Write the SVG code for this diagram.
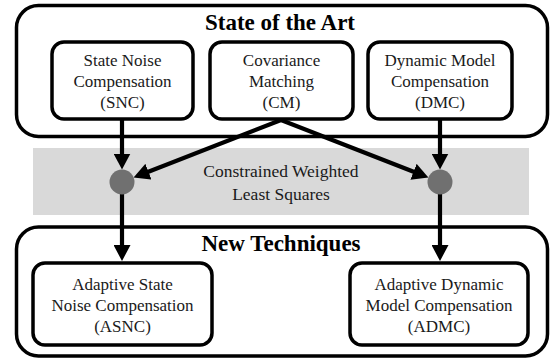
<svg xmlns="http://www.w3.org/2000/svg" width="553" height="362" viewBox="0 0 553 362">
<style>
.outer{fill:#fff;stroke:#000;stroke-width:3.5}
.box{fill:#fff;stroke:#000;stroke-width:3.5}
.t{font-family:"Liberation Serif","Times New Roman",serif;font-size:17px;text-anchor:middle;fill:#1a1a1a}
.title{font-family:"Liberation Serif","Times New Roman",serif;font-size:23px;font-weight:bold;text-anchor:middle;fill:#000}
.mid{font-family:"Liberation Serif","Times New Roman",serif;font-size:17.5px;text-anchor:middle;fill:#1a1a1a}
.c{stroke:#000;stroke-width:4.2;fill:none}
.dot{fill:#707070}
</style>
<defs>
<marker id="ah" markerUnits="userSpaceOnUse" markerWidth="17" markerHeight="17" refX="9" refY="8.5" orient="auto" viewBox="0 0 17 17">
<path d="M0,0 L16,8.5 L0,17 z" fill="#000"/>
</marker>
</defs>
<rect x="33" y="148" width="496" height="67" fill="#d9d9d9"/>
<g id="state-of-the-art">
<rect class="outer" x="16.5" y="5.5" width="531" height="131" rx="22"/>
<text class="title" x="280" y="30">State of the Art</text>
</g>
<g id="snc">
<rect class="box" x="52" y="42" width="141" height="77" rx="12"/>
<text class="t" x="122.5" y="66">State Noise</text>
<text class="t" x="122.5" y="87">Compensation</text>
<text class="t" x="122.5" y="108">(SNC)</text>
</g>
<g id="cm">
<rect class="box" x="210" y="42" width="143" height="77" rx="12"/>
<text class="t" x="281.5" y="66">Covariance</text>
<text class="t" x="281.5" y="87">Matching</text>
<text class="t" x="281.5" y="108">(CM)</text>
</g>
<g id="dmc">
<rect class="box" x="368" y="42" width="144" height="77" rx="12"/>
<text class="t" x="440" y="66">Dynamic Model</text>
<text class="t" x="440" y="87">Compensation</text>
<text class="t" x="440" y="108">(DMC)</text>
</g>
<g id="cwls">
<text class="mid" x="281" y="177">Constrained Weighted</text>
<text class="mid" x="281" y="200">Least Squares</text>
</g>
<g id="new-techniques">
<rect class="outer" x="16.5" y="227" width="531" height="129" rx="22"/>
<text class="title" x="281" y="251">New Techniques</text>
</g>
<g id="asnc">
<rect class="box" x="33" y="263" width="179" height="82" rx="12"/>
<text class="t" x="122.5" y="290">Adaptive State</text>
<text class="t" x="122.5" y="311">Noise Compensation</text>
<text class="t" x="122.5" y="332">(ASNC)</text>
</g>
<g id="admc">
<rect class="box" x="350" y="263" width="178" height="82" rx="12"/>
<text class="t" x="439" y="290">Adaptive Dynamic</text>
<text class="t" x="439" y="311">Model Compensation</text>
<text class="t" x="439" y="332">(ADMC)</text>
</g>
<g id="connectors">
<line class="c" x1="122" y1="119" x2="122" y2="162.5" marker-end="url(#ah)"/>
<line class="c" x1="440" y1="119" x2="440" y2="162.5" marker-end="url(#ah)"/>
<line class="c" x1="281" y1="120" x2="140.1" y2="175" marker-end="url(#ah)"/>
<line class="c" x1="281" y1="120" x2="421.9" y2="175" marker-end="url(#ah)"/>
<line class="c" x1="122" y1="190" x2="122" y2="254" marker-end="url(#ah)"/>
<line class="c" x1="440" y1="190" x2="440" y2="254" marker-end="url(#ah)"/>
</g>
<g id="junctions">
<circle class="dot" cx="122" cy="182" r="12.5"/>
<circle class="dot" cx="440" cy="182" r="12.5"/>
</g>
</svg>
